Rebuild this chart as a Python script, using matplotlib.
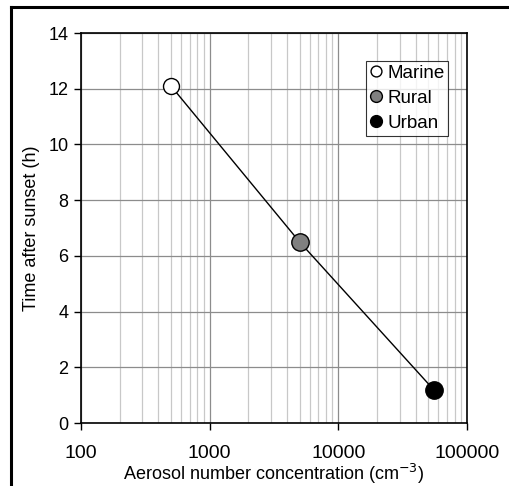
import matplotlib.pyplot as plt
from matplotlib.ticker import LogLocator, NullFormatter, FixedLocator

plt.rcParams['font.family'] = ['Liberation Sans', 'DejaVu Sans']

# data
sites = ['Marine', 'Rural', 'Urban']
conc = [500, 5000, 55000]          # cm^-3
hours = [12.1, 6.5, 1.2]           # time after sunset (h)
face = ['white', 'grey', 'black']

fig = plt.figure(figsize=(5.1, 4.86), dpi=100)
ax = fig.add_axes([81 / 510, 1 - 423 / 486, 386 / 510, 390 / 486])

ax.plot(conc, hours, color='black', lw=1, zorder=3)
for s, x, y, c in zip(sites, conc, hours, face):
    ax.plot(x, y, 'o', ms=11.5 if s == 'Marine' else 12.5, mfc=c, mec='black',
            mew=1, ls='none', label=s, zorder=4)

ax.set_xscale('log')
ax.set_xlim(100, 100000)
ax.set_ylim(0, 14)
ax.set_yticks(range(0, 15, 2))
ax.xaxis.set_major_locator(FixedLocator([100, 1000, 10000, 100000]))
ax.xaxis.set_minor_locator(LogLocator(base=10, subs=range(2, 10)))
ax.xaxis.set_minor_formatter(NullFormatter())
ax.set_xticklabels(['100', '1000', '10000', '100000'])

ax.grid(True, which='major', color='#8c8c8c', lw=0.9)
ax.grid(True, which='minor', axis='x', color='#c8c8c8', lw=0.9)
ax.set_axisbelow(True)

ax.tick_params(axis='both', which='major', direction='out', length=5,
               width=1, pad=4)
ax.tick_params(axis='y', labelsize=13)
ax.tick_params(axis='x', which='major', pad=11, labelsize=14)
ax.tick_params(axis='x', which='minor', length=0)
for sp in ax.spines.values():
    sp.set_linewidth(1.2)

ax.set_xlabel('Aerosol number concentration (cm$^{-3}$)', fontsize=13, labelpad=0)
ax.set_ylabel('Time after sunset (h)', fontsize=13, labelpad=6)

leg = ax.legend(loc='upper right', bbox_to_anchor=(0.951, 0.928),
                fontsize=13.5, handlelength=0.6, handletextpad=0.3,
                borderpad=0.2, labelspacing=0.42, markerscale=0.68,
                frameon=True, fancybox=False, borderaxespad=0)
leg.get_frame().set_edgecolor('black')
leg.get_frame().set_linewidth(0.8)

# outer frame: top and left edges only
fig.add_artist(plt.Line2D([11 / 510, 1], [1 - 7 / 486, 1 - 7 / 486],
                          transform=fig.transFigure, color='black', lw=2.2))
fig.add_artist(plt.Line2D([11 / 510, 11 / 510], [0, 1 - 7 / 486],
                          transform=fig.transFigure, color='black', lw=2.2))

fig.savefig('out.png', dpi=100)
